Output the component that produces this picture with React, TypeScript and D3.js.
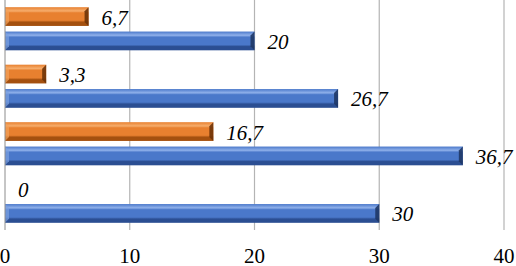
import * as d3 from 'd3';

const categories = ['Q1', 'Q2', 'Q3', 'Q4'];
const seriesNames = ['orange', 'blue'];
const orangeValues = [6.7, 3.3, 16.7, 0];
const blueValues = [20, 26.7, 36.7, 30];
const xTicks = [0, 10, 20, 30, 40];

const width = 516;
const height = 266;
const marginLeft = 5;
const marginRight = 12;
const plotBottom = 230;
const font = 'Liberation Serif, Times New Roman, DejaVu Serif, serif';

const palette = {
  orange: { top: '#f6ad6c', mid: '#e8802f', bot: '#a4500f', end: '#6e3308', start: '#f2a15a' },
  blue: { top: '#8fb0ea', mid: '#4a78ca', bot: '#2b4e92', end: '#1f3766', start: '#7a9fe0' },
};

const fmt = (v: number) => String(v).replace('.', ',');

const BevelBar = ({ x0, x1, y, h, kind }) => {
  const c = palette[kind];
  const w = Math.max(0, x1 - x0);
  if (w <= 0) return null;
  const b = Math.min(4, w / 2);
  return (
    <g>
      <rect x={x0} y={y} width={w} height={h} fill={`url(#grad-${kind})`} />
      <polygon
        points={`${x1},${y} ${x1},${y + h} ${x1 - b},${y + h - b} ${x1 - b},${y + b}`}
        fill={c.end}
        opacity={0.9}
      />
      <polygon
        points={`${x0},${y} ${x0},${y + h} ${x0 + b},${y + h - b} ${x0 + b},${y + b}`}
        fill={c.start}
        opacity={0.7}
      />
    </g>
  );
};

export default function App() {
  const x = d3.scaleLinear().domain([0, 40]).range([marginLeft, width - marginRight]);
  const y0 = d3.scaleBand()
    .domain(categories)
    .range([0, plotBottom])
    .paddingInner(0.25)
    .paddingOuter(0.125);
  const y1 = d3.scaleBand()
    .domain(seriesNames)
    .range([0, y0.bandwidth()])
    .paddingInner(0.23);

  const rows = categories.map((cat, i) => ({
    cat,
    values: [
      { key: 'orange', value: orangeValues[i] },
      { key: 'blue', value: blueValues[i] },
    ],
  }));

  return (
    <svg
      width={width}
      height={height}
      viewBox={`0 0 ${width} ${height}`}
      style={{ position: 'absolute', left: 0, top: 0, background: '#fff' }}
    >
      <defs>
        {Object.entries(palette).map(([k, c]) => (
          <linearGradient key={k} id={`grad-${k}`} x1="0" y1="0" x2="0" y2="1">
            <stop offset="0" stopColor={c.mid} />
            <stop offset="0.2" stopColor={c.top} />
            <stop offset="0.3" stopColor={c.mid} />
            <stop offset="0.7" stopColor={c.mid} />
            <stop offset="0.8" stopColor={c.bot} />
            <stop offset="1" stopColor={c.bot} />
          </linearGradient>
        ))}
      </defs>

      {/* gridlines */}
      {xTicks.slice(1).map(t => (
        <line key={t} x1={x(t)} x2={x(t)} y1={0} y2={plotBottom} stroke="#b4b4b4" strokeWidth={1.2} />
      ))}

      {/* bars */}
      {rows.map(r => (
        <g key={r.cat} transform={`translate(0,${y0(r.cat)})`}>
          {r.values.map(d => {
            const yy = y1(d.key);
            const h = y1.bandwidth();
            return (
              <g key={d.key}>
                <BevelBar x0={x(0)} x1={x(d.value)} y={yy} h={h} kind={d.key} />
                <text
                  x={x(d.value) + 13}
                  y={yy + h / 2 + 8}
                  fontFamily={font}
                  fontSize={21}
                  fontStyle="italic"
                  fill="#000"
                >
                  {fmt(d.value)}
                </text>
              </g>
            );
          })}
        </g>
      ))}

      {/* vertical axis */}
      <line x1={x(0)} x2={x(0)} y1={0} y2={plotBottom} stroke="#8c8c8c" strokeWidth={1} />

      {/* tick labels */}
      {xTicks.map(t => (
        <text key={t} x={x(t)} y={263} textAnchor="middle" fontFamily={font} fontSize={21} fill="#000">
          {t}
        </text>
      ))}
    </svg>
  );
}
